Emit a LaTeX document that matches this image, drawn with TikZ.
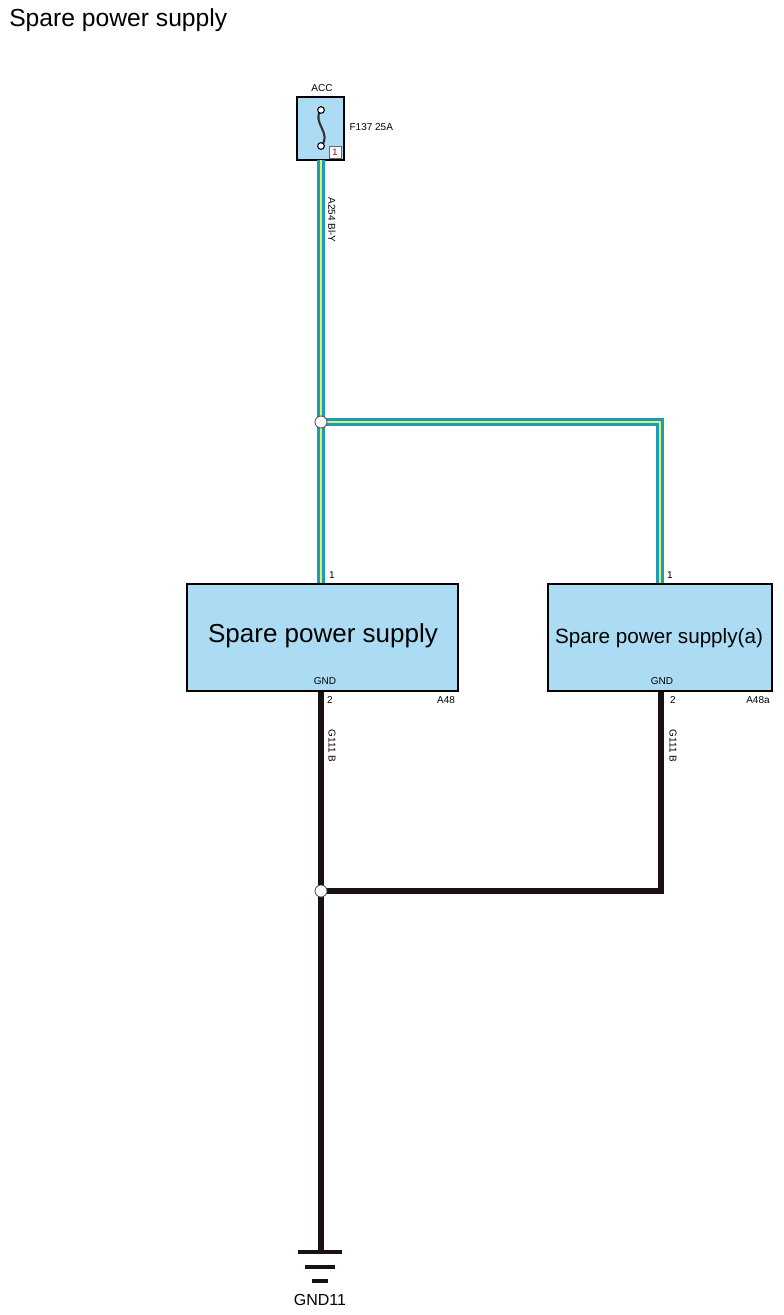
\documentclass[tikz,border=0pt]{standalone}
\usepackage{fontspec}
\setmainfont{Liberation Sans}
\begin{document}
\begin{tikzpicture}[x=0.75pt,y=-0.75pt,
  box/.style={draw=black,line width=1pt,fill=boxblue},
  wireo/.style={line width=5.5pt,draw=wteal},
  wirei/.style={line width=1.8pt,draw=wyel},
  bwire/.style={line width=5pt,draw=wblack},
  jn/.style={circle,draw=black!70,fill=white,minimum size=9pt,inner sep=0pt,line width=0.6pt},
  sm/.style={font=\fontsize{7.5}{8}\selectfont,inner sep=1pt},
  lbl/.style={font=\fontsize{7.5}{8}\selectfont,rotate=-90,inner sep=1pt}]
\definecolor{boxblue}{HTML}{ACDCF4}
\definecolor{wteal}{HTML}{1E9BB5}
\definecolor{wyel}{HTML}{D8F07A}
\definecolor{wblack}{HTML}{1A1210}
\useasboundingbox (0,0) rectangle (783,1315);
\node[anchor=west,font=\fontsize{18.5}{20}\selectfont,inner sep=0] (title) at (9,20) {Spare power supply};
% fuse
\draw[box,line width=1.4pt] (297,97) rectangle (344,160);
\node[sm] (acc) at (322,88) {ACC};
\node[sm,anchor=west] (fl) at (348,127) {F137 25A};
\draw[line width=1.6pt,black!80] (321,110) .. controls (311,122) and (333,134) .. (321,146);
\node[circle,draw=black,fill=white,inner sep=0,minimum size=5pt,line width=0.8pt] (f1) at (321,110) {};
\node[circle,draw=black,fill=white,inner sep=0,minimum size=5pt,line width=0.8pt] (f2) at (321,146) {};
\node[draw=black!60,fill=white,inner sep=1pt,font=\fontsize{7}{7}\selectfont,text=red!70!black,minimum width=9pt,minimum height=9pt] (pin) at (335,152) {1};
% coordinates
\coordinate (ftop) at (321,160);
\coordinate (j1) at (321,422);
\coordinate (rc) at (660,422);
\coordinate (b1t) at (321,584);
\coordinate (b2t) at (660,584);
\coordinate (b1b) at (321,691);
\coordinate (b2b) at (661,691);
\coordinate (j2) at (321,891);
\coordinate (rc2) at (661,891);
\coordinate (g) at (321,1252);
% blue wires
\draw[wireo] (ftop) -- (b1t);
\draw[wireo,line join=miter] (j1) -- (rc) -- (b2t);
\draw[wirei] (ftop) -- (b1t);
\draw[wirei,line join=miter] (j1) -- (rc) -- (b2t);
% black wires
\draw[bwire] (b1b) -- (g);
\draw[bwire,line join=miter] (b2b) -- (rc2) -- (j2);
\node[jn] (jn1) at (j1) {};
\node[jn] (jn2) at (j2) {};
% boxes
\draw[box] (187,584) rectangle (458,691);
\draw[box] (548,584) rectangle (772,691);
\node[font=\fontsize{19.5}{20}\selectfont] (t1) at (323,636) {Spare power supply};
\node[font=\fontsize{15.5}{16}\selectfont] (t2) at (659,638) {Spare power supply(a)};
\node[sm] (g1) at (325,681) {GND};
\node[sm] (g2) at (662,681) {GND};
\node[sm] (p11) at (332,575) {1};
\node[sm] (p21) at (670,575) {1};
\node[sm] (p12) at (330,700) {2};
\node[sm] (p22) at (673,700) {2};
\node[sm] (a48) at (446,700) {A48};
\node[sm] (a48a) at (758,700) {A48a};
\node[lbl] (w1) at (332,220) {A254 Bl-Y};
\node[lbl] (w2) at (332,746) {G111 B};
\node[lbl] (w3) at (673,746) {G111 B};
% ground
\draw[line width=3pt,wblack] (298,1252) -- (342,1252);
\draw[line width=3pt,wblack] (305,1267) -- (335,1267);
\draw[line width=3pt,wblack] (312,1281) -- (328,1281);
\node[font=\fontsize{12}{13}\selectfont] (gnd) at (320,1300) {GND11};
\end{tikzpicture}
\end{document}
